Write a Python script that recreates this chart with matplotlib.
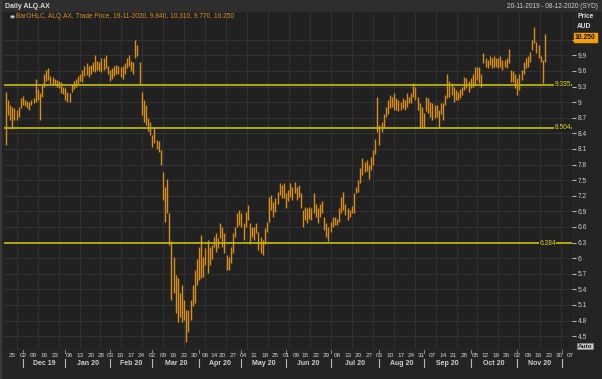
import numpy as np
import pandas as pd
import matplotlib
matplotlib.use("Agg")
import matplotlib.pyplot as plt
from matplotlib.transforms import blended_transform_factory
from matplotlib.lines import Line2D
from matplotlib.patches import Rectangle, Circle

# ---------------- data ----------------
start_date = "2019-11-20"
axis_end_date = "2020-12-08"
asx_holidays = ["2019-12-25", "2019-12-26", "2020-01-01", "2020-01-27",
                "2020-04-10", "2020-04-13", "2020-06-08"]

low = [
    8.18, 8.75, 8.65, 8.48, 8.65, 8.66, 8.72, 8.88, 8.95, 8.92,
    8.88, 8.85, 8.95, 8.98, 9.00, 9.05, 8.66, 9.10, 9.30, 9.40,
    9.42, 9.35, 9.33, 9.32, 9.30, 9.28, 9.17, 9.15, 9.05, 9.00,
    9.00, 9.20, 9.25, 9.30, 9.35, 9.40, 9.38, 9.50, 9.52, 9.48,
    9.55, 9.60, 9.58, 9.62, 9.60, 9.58, 9.62, 9.65, 9.55, 9.40,
    9.45, 9.50, 9.55, 9.55, 9.48, 9.45, 9.55, 9.65, 9.70, 9.60,
    9.55, 9.85, 9.88, 9.35, 8.75, 8.62, 8.56, 8.45, 8.37, 8.14,
    8.21, 8.10, 8.05, 7.79, 7.12, 6.70, 6.86, 6.25, 5.19, 5.32,
    4.94, 4.78, 4.87, 4.78, 4.81, 4.38, 4.58, 4.81, 5.07, 5.13,
    5.48, 5.58, 5.61, 5.64, 5.87, 5.71, 5.87, 5.99, 6.22, 6.12,
    6.19, 6.38, 6.22, 6.09, 5.77, 5.77, 5.90, 6.09, 6.41, 6.60,
    6.64, 6.60, 6.35, 6.60, 6.73, 6.28, 6.41, 6.35, 6.48, 6.16,
    6.09, 6.06, 6.28, 6.51, 6.70, 6.92, 6.80, 6.89, 7.05, 7.21,
    7.15, 7.15, 6.96, 7.09, 7.18, 7.12, 7.25, 7.12, 7.18, 6.96,
    6.60, 6.73, 6.67, 6.76, 6.73, 6.86, 6.80, 6.67, 6.80, 6.86,
    6.54, 6.41, 6.32, 6.51, 6.60, 6.64, 6.64, 6.70, 6.86, 6.92,
    6.83, 6.73, 6.80, 6.86, 6.86, 7.25, 7.28, 7.44, 7.60, 7.66,
    7.68, 7.53, 7.70, 7.79, 8.00, 8.43, 8.18, 8.43, 8.53, 8.72,
    8.78, 8.88, 8.91, 8.85, 8.85, 8.82, 8.85, 8.88, 8.85, 8.91,
    8.98, 8.98, 9.10, 9.04, 8.85, 8.50, 8.50, 8.50, 8.82, 8.79,
    8.72, 8.66, 8.70, 8.72, 8.50, 8.78, 8.66, 8.95, 9.07, 9.10,
    9.14, 9.01, 9.04, 9.04, 9.07, 9.14, 9.23, 9.27, 9.20, 9.27,
    9.30, 9.33, 9.43, 9.36, 9.30, 9.75, 9.68, 9.65, 9.71, 9.65,
    9.68, 9.68, 9.66, 9.68, 9.62, 9.68, 9.65, 9.75, 9.39, 9.39,
    9.27, 9.14, 9.23, 9.43, 9.55, 9.65, 9.68, 9.78, 10.00, 10.13,
    9.94, 9.85, 9.78, 9.36, 9.77,
]
high = [
    9.20, 9.05, 8.95, 8.90, 8.88, 8.85, 8.90, 9.08, 9.12, 9.05,
    9.02, 9.00, 9.04, 9.08, 9.44, 9.25, 9.17, 9.32, 9.55, 9.62,
    9.65, 9.50, 9.48, 9.45, 9.42, 9.40, 9.38, 9.30, 9.28, 9.20,
    9.18, 9.35, 9.40, 9.45, 9.50, 9.55, 9.62, 9.70, 9.75, 9.70,
    9.72, 9.78, 9.90, 9.80, 9.78, 9.84, 9.85, 9.90, 9.70, 9.62,
    9.65, 9.70, 9.72, 9.70, 9.68, 9.70, 9.75, 9.84, 9.90, 9.80,
    9.78, 10.19, 10.10, 9.78, 9.20, 9.05, 8.95, 8.70, 8.62, 8.37,
    8.50, 8.27, 8.25, 8.08, 7.66, 7.37, 7.53, 6.86, 6.32, 6.03,
    5.67, 5.61, 5.32, 5.48, 5.19, 5.00, 5.00, 5.19, 5.48, 5.77,
    5.99, 6.22, 6.44, 6.03, 6.19, 6.35, 6.22, 6.25, 6.41, 6.48,
    6.38, 6.67, 6.60, 6.48, 6.06, 6.03, 6.22, 6.48, 6.60, 6.86,
    6.92, 6.86, 6.67, 6.89, 7.02, 6.67, 6.60, 6.60, 6.67, 6.51,
    6.41, 6.35, 6.57, 6.70, 7.18, 7.21, 7.08, 7.15, 7.28, 7.44,
    7.41, 7.44, 7.25, 7.31, 7.44, 7.37, 7.47, 7.37, 7.41, 7.25,
    6.92, 6.99, 6.96, 6.99, 6.96, 7.25, 7.05, 6.96, 7.05, 7.09,
    6.80, 6.67, 6.60, 6.70, 6.80, 6.80, 6.76, 6.96, 7.18, 7.28,
    7.05, 6.96, 6.92, 7.00, 7.25, 7.37, 7.50, 7.73, 7.92, 7.85,
    7.88, 7.79, 7.95, 8.08, 8.30, 9.10, 8.56, 8.62, 8.78, 8.91,
    9.04, 9.14, 9.10, 9.17, 9.07, 9.04, 9.01, 9.07, 9.04, 9.17,
    9.10, 9.17, 9.36, 9.30, 9.10, 8.98, 8.91, 8.80, 9.10, 9.07,
    9.01, 8.98, 8.95, 8.94, 8.85, 8.98, 8.98, 9.14, 9.55, 9.40,
    9.36, 9.30, 9.23, 9.20, 9.26, 9.30, 9.49, 9.46, 9.40, 9.46,
    9.55, 9.68, 9.68, 9.68, 9.55, 9.94, 9.85, 9.81, 9.88, 9.84,
    9.88, 9.84, 9.85, 9.88, 9.81, 9.81, 9.84, 10.03, 9.62, 9.59,
    9.55, 9.46, 9.55, 9.62, 9.78, 9.84, 9.88, 9.97, 10.19, 10.45,
    10.16, 10.10, 9.88, 9.81, 10.31,
]

ref_levels = [9.335, 8.504, 6.284]
ref_labels = ["9.335", "8.504", "6.284"]
last_price_label = "10.250"
legend_text = "BarOHLC, ALQ.AX, Trade Price, 19-11-2020, 9.840, 10.310, 9.770, 10.250"
title_text = "Daily ALQ.AX"
range_text = "20-11-2019 - 08-12-2020 (SYD)"

week_ticks = ["2019-11-25", "2019-12-02", "2019-12-09", "2019-12-16", "2019-12-23",
              "2020-01-06", "2020-01-13", "2020-01-20", "2020-01-28", "2020-02-03",
              "2020-02-10", "2020-02-17", "2020-02-24", "2020-03-02", "2020-03-09",
              "2020-03-16", "2020-03-23", "2020-03-30", "2020-04-06", "2020-04-14",
              "2020-04-20", "2020-04-27", "2020-05-04", "2020-05-11", "2020-05-18",
              "2020-05-25", "2020-06-01", "2020-06-09", "2020-06-15", "2020-06-22",
              "2020-06-29", "2020-07-06", "2020-07-13", "2020-07-20", "2020-07-27",
              "2020-08-03", "2020-08-10", "2020-08-17", "2020-08-24", "2020-08-31",
              "2020-09-07", "2020-09-14", "2020-09-21", "2020-09-28", "2020-10-05",
              "2020-10-12", "2020-10-19", "2020-10-26", "2020-11-02", "2020-11-09",
              "2020-11-16", "2020-11-23", "2020-11-30", "2020-12-07"]
month_starts = ["2019-12-02", "2020-01-02", "2020-02-03", "2020-03-02", "2020-04-01",
                "2020-05-01", "2020-06-01", "2020-07-01", "2020-08-03", "2020-09-01",
                "2020-10-01", "2020-11-02", "2020-12-01"]
month_labels = ["Dec 19", "Jan 20", "Feb 20", "Mar 20", "Apr 20", "May 20",
                "Jun 20", "Jul 20", "Aug 20", "Sep 20", "Oct 20", "Nov 20"]

assert len(low) == len(high)

# ---------------- style ----------------
FIG_BG = "#242424"
PLOT_BG = "#212121"
GRID = "#323232"
BAR = "#d98e1c"
LEVEL = "#bdb400"
LEVEL_TXT = "#dcd21c"
TXT = "#cfcfcf"
FONT = "Liberation Sans"
plt.rcParams["font.family"] = [FONT, "DejaVu Sans"]

W, H = 602, 379
fig = plt.figure(figsize=(W / 100, H / 100), dpi=100)
fig.patch.set_facecolor(FIG_BG)

L, R, T, B = 4, 572, 13, 349
ax = fig.add_axes([L / W, 1 - B / H, (R - L) / W, (B - T) / H])
ax.set_facecolor(PLOT_BG)

# trading-day axis
all_days = pd.bdate_range(start_date, axis_end_date)
all_days = all_days[~all_days.isin(pd.to_datetime(asx_holidays))]
pos = {d: i for i, d in enumerate(all_days)}

x0, dx = 5.93, 2.122          # pixel of bar 0, pixels per bar
ax.set_xlim((L - x0) / dx, (R - x0) / dx)
py0, ppu = 55.3, 52.0         # pixel of 9.9, pixels per unit
ax.set_ylim(9.9 - (B - py0) / ppu, 9.9 - (T - py0) / ppu)

for s in ax.spines.values():
    s.set_visible(False)

# grid / right axis (10.2 label sits under the last-price tag)
yt = np.round(np.arange(4.5, 10.21, 0.3), 1)
ax.set_yticks(yt)
ax.set_yticklabels([f"{v:g}" if v < 10.1 else "" for v in yt])
ax.yaxis.tick_right()
ax.tick_params(axis="y", direction="out", length=3, width=0.8, color="#b0b0b0",
               labelsize=4.8, labelcolor=TXT, pad=1)
for v in yt:
    ax.axhline(v, color=GRID, lw=0.8, zorder=0)
for g in np.arange(5.08, 270, 9.87):
    ax.axvline(g, color=GRID, lw=0.8, zorder=0)
ax.axhline(ax.get_ylim()[0], color="#3a3a3a", lw=1.0, zorder=0)

# x ticks (weekly)
xt = [pos[pd.Timestamp(d)] for d in week_ticks]
ax.set_xticks(xt)
ax.set_xticklabels([pd.Timestamp(d).strftime("%d") for d in week_ticks])
ax.tick_params(axis="x", length=0, labelsize=4.6, labelcolor=TXT, pad=2.8)

# bars
idx = np.arange(len(low))
ax.vlines(idx, low, high, colors=BAR, lw=1.0, zorder=3)

# reference levels
for lvl, lab in zip(ref_levels, ref_labels):
    ax.axhline(lvl, color=LEVEL, lw=1.3, zorder=4)
    xr = (556 - x0) / dx if lab == "6.284" else (571 - x0) / dx
    ax.text(xr, lvl, lab, color=LEVEL_TXT, fontsize=4.8, ha="right", va="center",
            zorder=5, bbox=dict(facecolor=PLOT_BG, edgecolor="none", pad=0.3))

# month separators / labels
btr = blended_transform_factory(ax.transData, fig.transFigure)
ms = [pos[pd.Timestamp(d)] for d in month_starts]
for m in ms:
    fig.add_artist(Line2D([m, m], [1 - 359 / H, 1 - 367 / H], transform=btr,
                          color="#b8b8b8", lw=0.8))
    fig.add_artist(Line2D([m, m], [1 - 350 / H, 1 - 353 / H], transform=btr,
                          color="#888888", lw=0.7))
for a, b, lab in zip(ms[:-1], ms[1:], month_labels):
    fig.text((a + b) / 2, 1 - 363.5 / H, lab, transform=btr, ha="center", va="center",
             fontsize=5.0, fontweight="bold", color=TXT)

# header bar and frame
fig.add_artist(Rectangle((0, 1 - 12 / H), 1, 12 / H, transform=fig.transFigure,
                         facecolor="#2e2e2e", edgecolor="none", zorder=0))
fig.add_artist(Rectangle((0, 0), 2 / W, 1, transform=fig.transFigure,
                         facecolor="#3a3a3a", edgecolor="none", zorder=0))
fig.text(5 / W, 1 - 6.5 / H, title_text, fontsize=5.0, fontweight="bold",
         color="#d8d8d8", va="center", ha="left")
fig.text(598 / W, 1 - 6.5 / H, range_text, fontsize=4.7, color="#d0d0d0",
         va="center", ha="right")

# legend
fig.add_artist(Circle((12.5 / W, 1 - 16.8 / H), 2.2 / W, transform=fig.transFigure,
                      facecolor="#c8c8c8", edgecolor="#7a7a7a", lw=0.5, zorder=6))
fig.text(16.5 / W, 1 - 16.8 / H, legend_text, fontsize=4.75, color="#d98f1f",
         va="center", ha="left")

# right axis header
fig.text(577 / W, 1 - 17 / H, "Price", fontsize=4.8, fontweight="bold", color="#e0e0e0",
         va="center", ha="left")
fig.text(577 / W, 1 - 26 / H, "AUD", fontsize=4.8, fontweight="bold", color="#e0e0e0",
         va="center", ha="left")
fig.text(575 / W, 1 - 37.2 / H, last_price_label, fontsize=4.9, fontweight="bold",
         color="#111111", va="center", ha="left", zorder=10,
         bbox=dict(facecolor="#f2a100", edgecolor="#f2a100", pad=0.6))
fig.text(578 / W, 1 - 346 / H, "Auto", fontsize=4.6, fontweight="bold", color="#222222",
         va="center", ha="left", zorder=10,
         bbox=dict(facecolor="#c8c8c8", edgecolor="#888888", pad=0.6, lw=0.5))

fig.savefig("out.png", dpi=100, facecolor=fig.get_facecolor())
